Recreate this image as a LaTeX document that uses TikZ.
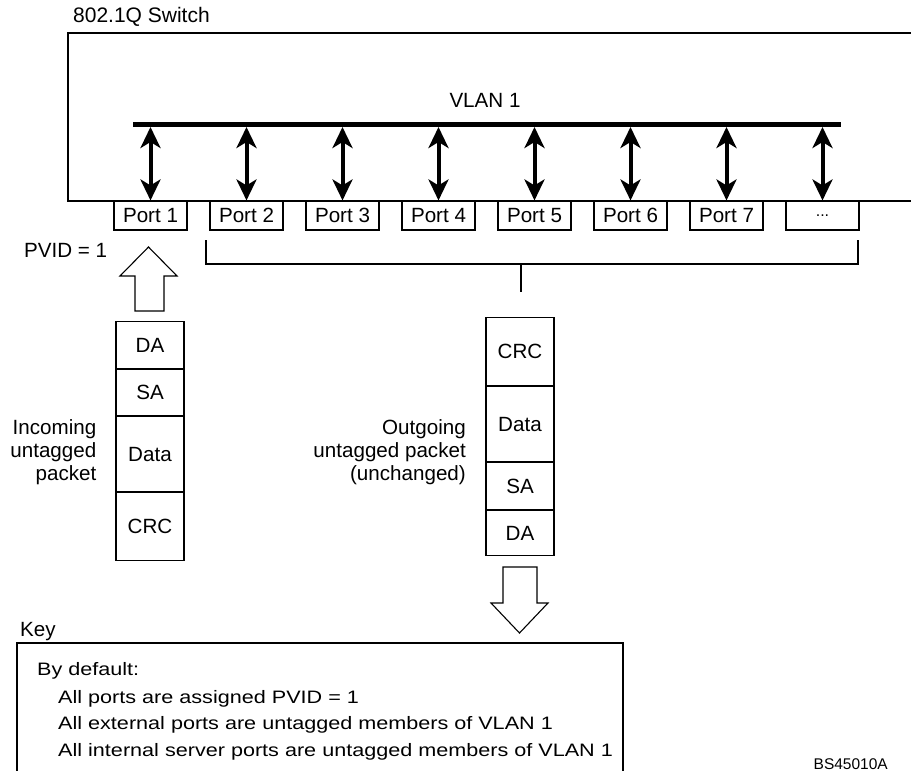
\documentclass[tikz,border=0pt]{standalone}
\usepackage{fontspec}
\setmainfont{Liberation Sans}
\newfontfamily\keyfont[FakeStretch=1.2]{Liberation Sans}
\usetikzlibrary{arrows.meta}
\newcommand\portdots{{\fontsize{16}{18}\selectfont ...}}
\begin{document}
\begin{tikzpicture}[x=1pt,y=-1pt,
  thinline/.style={line width=1.1pt, draw=black},
  txt/.style={font=\fontsize{20.6}{23}\selectfont, inner sep=0pt},
  keytxt/.style={font=\keyfont\fontsize{18}{27}\selectfont, inner sep=0pt},
  portbox/.style={draw, line width=1.1pt, minimum width=73pt, minimum height=29pt, inner sep=0pt, font=\fontsize{20.6}{23}\selectfont},
  cell/.style={draw, line width=1.1pt, minimum width=68pt, inner sep=0pt, anchor=north, font=\fontsize{20.6}{23}\selectfont},
  busarrow/.style={line width=4pt, {Stealth[length=21pt 0 0,width=20pt 0 0,inset=6pt 0 0]}-{Stealth[length=21pt 0 0,width=20pt 0 0,inset=6pt 0 0]}},
  blockarrow/.style={draw, line width=1.1pt, fill=white, line join=miter}
]
\useasboundingbox (0,0) rectangle (911,771);

% switch outline (open at right)
\draw[thinline] (911,33) -- (68,33) -- (68,201) -- (911,201);
\node[txt, font=\fontsize{21}{24}\selectfont, anchor=base west] (title) at (73,23) {802.1Q Switch};

% VLAN bus
\coordinate (busL) at (133,124.5);
\coordinate (busR) at (841,124.5);
\draw[line width=5pt] (busL) -- (busR);
\node[txt, anchor=base] (vlan) at (485,107) {VLAN 1};
\coordinate (busY) at (0,127);

% ports
\foreach \i/\t in {1/Port 1,2/Port 2,3/Port 3,4/Port 4,5/Port 5,6/Port 6,7/Port 7,8/\portdots}{
  \node[portbox] (p\i) at ({150.5+96*(\i-1)},215.5) {\t};
  \draw[busarrow] (p\i.north |- busY) -- (p\i.north);
}

% PVID and incoming arrow
\node[txt, anchor=base west] (pvid) at (24,257) {PVID = 1};
\draw[blockarrow] (135,311) -- (135,276) -- (120,276) -- (148.5,247) -- (177,276) -- (164,276) -- (164,311) -- cycle;

% bracket over ports 2..8
\coordinate (brL) at (206,240);
\coordinate (brR) at (858,240);
\coordinate (brM) at (521,264);
\coordinate (brT) at (521,292);
\draw[thinline] (brL) -- (brL |- brM) -- (brR |- brM) -- (brR);
\draw[thinline] (brM) -- (brT);

% incoming packet
\node[cell, minimum height=47pt] (ida) at (150,321) {DA};
\node[cell, minimum height=46pt] (isa) at (ida.south) {SA};
\node[cell, minimum height=75pt] (idata) at (isa.south) {Data};
\node[cell, minimum height=68pt] (icrc) at (idata.south) {CRC};
\node[txt, align=right, anchor=north east] (inc) at (96.5,419.5) {Incoming\\untagged\\packet};

% outgoing packet
\node[cell, minimum height=68pt] (ocrc) at (520,317) {CRC};
\node[cell, minimum height=75pt] (odata) at (ocrc.south) {Data};
\node[cell, minimum height=47pt] (osa) at (odata.south) {SA};
\node[cell, minimum height=45pt] (oda) at (osa.south) {DA};
\node[txt, align=right, anchor=north east] (outg) at (466,419) {Outgoing\\untagged packet\\(unchanged)};

% outgoing arrow
\draw[blockarrow] (503,567) -- (537,567) -- (537,603) -- (548,603) -- (519.5,633) -- (491,603) -- (503,603) -- cycle;

% key
\node[txt, anchor=base west] (key) at (20,636) {Key};
\draw[thinline] (17,771) -- (17,643) -- (623,643) -- (623,771);
\node[keytxt, anchor=base west] (k0) at (37,675) {By default:};
\node[keytxt, anchor=base west] (k1) at (58,703) {All ports are assigned PVID = 1};
\node[keytxt, anchor=base west] (k2) at (58,729) {All external ports are untagged members of VLAN 1};
\node[keytxt, anchor=base west] (k3) at (58,756) {All internal server ports are untagged members of VLAN 1};

\node[font=\fontsize{15.5}{18}\selectfont, inner sep=0pt, anchor=base east] (code) at (888,769) {BS45010A};
\end{tikzpicture}
\end{document}
